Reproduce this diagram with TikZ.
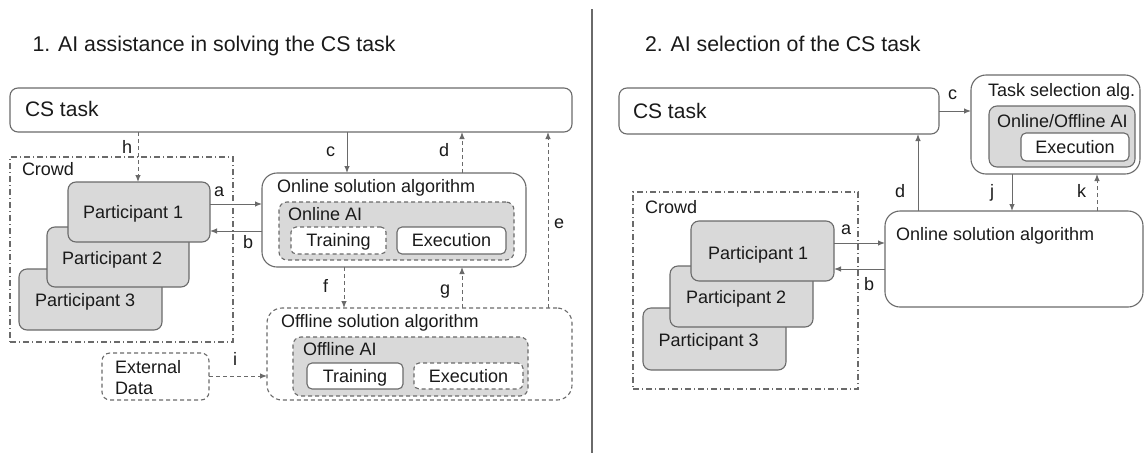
\documentclass[tikz,border=0pt]{standalone}
\usepackage{fontspec}
\setmainfont{Liberation Sans}
\usetikzlibrary{arrows.meta,calc}
\definecolor{ln}{HTML}{6A6A6A}
\definecolor{fillg}{HTML}{D9D9D9}
\definecolor{txt}{HTML}{1A1A1A}
\begin{document}
\begin{tikzpicture}[x=1pt,y=-1pt,
  every node/.style={font=\fontsize{18}{21}\selectfont, text=txt, inner sep=0pt, outer sep=0pt},
  box/.style={draw=ln, line width=1.1pt, anchor=north west, rounded corners=#1},
  box/.default=8pt,
  gray/.style={fill=fillg},
  white/.style={fill=white},
  dsh/.style={dash pattern=on 4pt off 3pt},
  dashdot/.style={dash pattern=on 6pt off 3pt on 1pt off 3pt},
  capc/.style={text height=12.9pt, text depth=0pt},
  lbl/.style={anchor=base west},
  big/.style={font=\fontsize{21}{24}\selectfont},
  ttl/.style={font=\fontsize{21.3}{24}\selectfont},
  arr/.style={draw=ln, line width=1pt, -{Latex[length=7pt,width=5.5pt]}},
]
\useasboundingbox (0,0) rectangle (1145,453);

% ---------- Left panel ----------
\node[lbl, ttl] (title1) at (32.5,51) {1. AI assistance in solving the CS task};

\node[box, minimum width=562pt, minimum height=44pt] (cs1) at (10,88) {};
\node[lbl, big] (cs1t) at (25,116.5) {CS task};

\node[box=0pt, dashdot, minimum width=223pt, minimum height=185pt] (crowd1) at (10,157) {};
\node[lbl] (crowd1t) at (22,175) {Crowd};

\node[box, gray, minimum width=143pt, minimum height=61pt] (p3) at (19,269) {};
\node[box, gray, minimum width=142pt, minimum height=60pt] (p2) at (47,227) {};
\node[box, gray, minimum width=142pt, minimum height=60pt] (p1) at (68,182) {};
\node[lbl] (p1t) at (83,218.5) {Participant 1};
\node[lbl] (p2t) at (62,264) {Participant 2};
\node[lbl] (p3t) at (35,306) {Participant 3};

\node[box=15pt, minimum width=264pt, minimum height=94pt] (on1) at (262,173) {};
\node[lbl] (on1t) at (277,192) {Online solution algorithm};
\node[box, gray, dsh, minimum width=235pt, minimum height=58pt] (oai1) at (279,202) {};
\node[lbl] (oai1t) at (288,220) {Online AI};
\node[box=5pt, white, dsh, capc, minimum width=95pt, minimum height=27pt] (tr1) at (291,227) {Training};
\node[box=5pt, white, capc, minimum width=109pt, minimum height=27pt] (ex1) at (397,227) {Execution};

\node[box=15pt, dsh, minimum width=305pt, minimum height=92pt] (off1) at (267,308) {};
\node[lbl] (off1t) at (281,327) {Offline solution algorithm};
\node[box, gray, dsh, minimum width=235pt, minimum height=59pt] (oai2) at (293,337) {};
\node[lbl] (oai2t) at (303,355) {Offline AI};
\node[box=5pt, white, capc, minimum width=96pt, minimum height=26pt] (tr2) at (307,363) {Training};
\node[box=5pt, white, dsh, capc, minimum width=109pt, minimum height=26pt] (ex2) at (414,363) {Execution};

\node[box, dsh, minimum width=107pt, minimum height=47pt] (ext) at (102,353) {};
\node[lbl] (extt) at (115,373) {External};
\node[lbl] (extt2) at (115,394) {Data};

% connectors left
\draw[arr, dsh] (cs1.south -| 138,0) -- (p1.north -| 138,0);
\node[lbl] (lh) at (122,153) {h};
\draw[arr] (p1.east |- 0,204) -- (on1.west |- 0,204);
\node[lbl] (la) at (214,196) {a};
\draw[arr] (on1.west |- 0,231) -- (p1.east |- 0,231);
\node[lbl] (lb) at (243,248) {b};
\draw[arr] (cs1.south -| 347,0) -- (on1.north -| 347,0);
\node[lbl] (lc) at (326,156) {c};
\draw[arr, dsh] (on1.north -| 462,0) -- (cs1.south -| 462,0);
\node[lbl] (ld) at (439,156) {d};
\draw[arr, dsh] (off1.north -| 548,0) -- (cs1.south -| 548,0);
\node[lbl] (le) at (554,228) {e};
\draw[arr, dsh] (on1.south -| 344,0) -- (off1.north -| 344,0);
\node[lbl] (lf) at (323,292) {f};
\draw[arr, dsh] (off1.north -| 462,0) -- (on1.south -| 462,0);
\node[lbl] (lg) at (440,294) {g};
\draw[arr, dsh] (ext.east |- 0,376) -- (off1.west |- 0,376);
\node[lbl] (li) at (233,365) {i};

% divider
\draw[ln, line width=1.2pt] (592,9) -- (592,453);

% ---------- Right panel ----------
\node[lbl, ttl] (title2) at (645,51) {2. AI selection of the CS task};

\node[box, minimum width=320pt, minimum height=46pt] (cs2) at (619,88) {};
\node[lbl, big] (cs2t) at (633,118) {CS task};

\node[box=15pt, minimum width=169pt, minimum height=99pt] (ts) at (971,75) {};
\node[lbl] (tst) at (988,96) {Task selection alg.};
\node[box, gray, minimum width=146pt, minimum height=61pt] (oai3) at (989,106) {};
\node[lbl] (oai3t) at (997,127) {Online/Offline AI};
\node[box=5pt, white, capc, minimum width=108pt, minimum height=28pt] (ex3) at (1021,133) {Execution};

\node[box=0pt, dashdot, minimum width=225pt, minimum height=197pt] (crowd2) at (633,192) {};
\node[lbl] (crowd2t) at (645,213.5) {Crowd};
\node[box, gray, minimum width=143pt, minimum height=62pt] (p3r) at (643,308) {};
\node[box, gray, minimum width=143pt, minimum height=61pt] (p2r) at (670,266) {};
\node[box, gray, minimum width=143pt, minimum height=60pt] (p1r) at (691,221) {};
\node[lbl] (p1rt) at (708,259) {Participant 1};
\node[lbl] (p2rt) at (686,303) {Participant 2};
\node[lbl] (p3rt) at (658.5,346) {Participant 3};

\node[box=15pt, minimum width=258pt, minimum height=96pt] (on2) at (885,211) {};
\node[lbl] (on2t) at (896,240) {Online solution algorithm};

% connectors right
\draw[arr] (cs2.east |- 0,111) -- (ts.west |- 0,111);
\node[lbl] (rc) at (948,99.5) {c};
\draw[arr] (on2.north -| 918,0) -- (cs2.south -| 918,0);
\node[lbl] (rd) at (895,197) {d};
\draw[arr] (ts.south -| 1012,0) -- (on2.north -| 1012,0);
\node[lbl] (rj) at (990,197) {j};
\draw[arr, dsh] (on2.north -| 1097,0) -- (ts.south -| 1097,0);
\node[lbl] (rk) at (1077,197) {k};
\draw[arr] (p1r.east |- 0,243) -- (on2.west |- 0,243);
\node[lbl] (ra) at (841,234) {a};
\draw[arr] (on2.west |- 0,269) -- (p1r.east |- 0,269);
\node[lbl] (rb) at (864,290.5) {b};
\end{tikzpicture}
\end{document}
